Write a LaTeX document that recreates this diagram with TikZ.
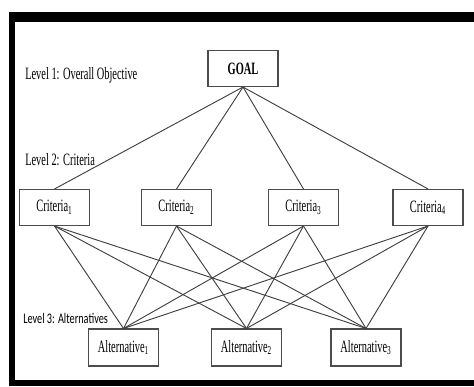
\documentclass[tikz,border=0pt]{standalone}
\usepackage{fontspec}
\setmainfont{Liberation Serif}[FakeStretch=0.6]
\newfontfamily\levelsans{Carlito}[FakeStretch=0.7]
\usepackage{tikz}
\usetikzlibrary{positioning}
\tikzstyle{block} = [rectangle, draw=black!70, line width=0.8pt, minimum width=52.5pt, minimum height=27pt, inner sep=0pt, text centered, font=\fontsize{13}{15}\selectfont]
\tikzstyle{levellabel} = [anchor=west, inner sep=0pt, font=\fontsize{13}{15}\selectfont]
\tikzstyle{link} = [black!75, line width=0.7pt]

\begin{document}
\begin{tikzpicture}[x=0.75pt, y=-0.75pt]
        \useasboundingbox (0,0) rectangle (474,386);
        % frame
        \fill (9,12) rectangle (474,22);
        \fill (9,12) rectangle (15,386);
        \fill (9,380) rectangle (474,386);

        \node (goal) [block, font=\bfseries\fontsize{13}{15}\selectfont] at (243,68.5) {GOAL};
        \node (c1) [block] at (54.5,207.5) {Criteria\textsubscript{1}};
        \node (c2) [block] at (176.5,207.5) {Criteria\textsubscript{2}};
        \node (c3) [block] at (303.5,207.5) {Criteria\textsubscript{3}};
        \node (c4) [block] at (428,207.5) {Criteria\textsubscript{4}};
        \node (a1) [block, minimum height=27.75pt] at (123.5,347.5) {Alternative\textsubscript{1}};
        \node (a2) [block, minimum height=27.75pt] at (246.5,347.5) {Alternative\textsubscript{2}};
        \node (a3) [block, minimum height=27.75pt] at (366,347.5) {Alternative\textsubscript{3}};

        \node (lv1) [levellabel] at (25,75) {Level 1: Overall Objective};
        \node (lv2) [levellabel] at (25,160) {Level 2: Criteria};
        \node (lv3) [levellabel, font=\levelsans\fontsize{11}{13}\selectfont] at (23,318) {Level 3: Alternatives};

        \draw [link] (goal.south) -- (c1.north);
        \draw [link] (goal.south) -- (c2.north);
        \draw [link] (goal.south) -- (c3.north);
        \draw [link] (goal.south) -- (c4.north);
        \draw [link] (c1.south) -- (a1.north);
        \draw [link] (c1.south) -- (a2.north);
        \draw [link] (c1.south) -- (a3.north);
        \draw [link] (c2.south) -- (a1.north);
        \draw [link] (c2.south) -- (a2.north);
        \draw [link] (c2.south) -- (a3.north);
        \draw [link] (c3.south) -- (a1.north);
        \draw [link] (c3.south) -- (a2.north);
        \draw [link] (c3.south) -- (a3.north);
        \draw [link] (c4.south) -- (a1.north);
        \draw [link] (c4.south) -- (a2.north);
        \draw [link] (c4.south) -- (a3.north);
    \end{tikzpicture}
\end{document}
